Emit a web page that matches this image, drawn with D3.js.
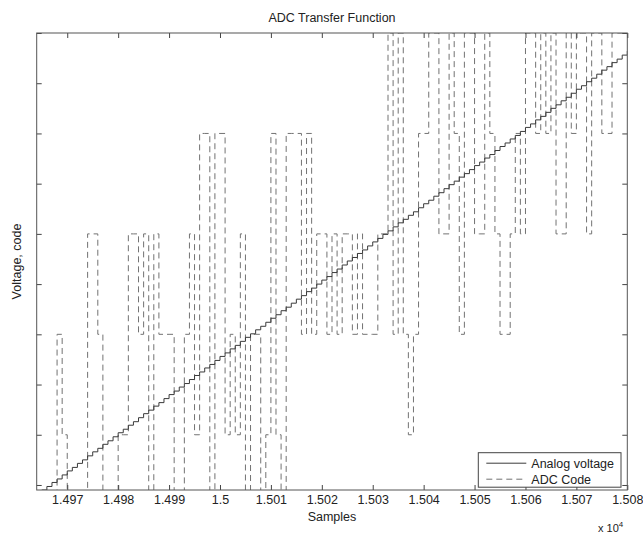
<!DOCTYPE html>
<html>
<head>
<meta charset="utf-8">
<script src="https://cdn.jsdelivr.net/npm/d3@7"></script>
<style>
  html, body { margin: 0; padding: 0; background: #fff; }
  svg { display: block; }
  text { font-family: "Liberation Sans", Arial, Helvetica, sans-serif; fill: #222; }
</style>
</head>
<body>
<svg id="chart" width="643" height="533"></svg>
<script>
// ---- data ----
const firstSample = 14964;          // sample index of first value
const xDomain = [14964, 15080];
const yDomain = [-0.1, 9];
const xTickValues = [14970, 14980, 14990, 15000, 15010, 15020, 15030, 15040, 15050, 15060, 15070, 15080];
const yTickValues = [0, 1, 2, 3, 4, 5, 6, 7, 8, 9];
const chartTitle = "ADC Transfer Function";
const xLabel = "Samples";
const yLabel = "Voltage, code";
const seriesNames = ["Analog voltage", "ADC Code"];

// analog voltage, one value per sample (14964 ... 15080)
const analogVoltage = [
 -0.18,-0.10,-0.03,0.05,0.12,0.20,0.28,0.35,0.43,0.50,
 0.58,0.66,0.73,0.81,0.88,0.96,1.04,1.11,1.19,1.26,
 1.34,1.42,1.49,1.57,1.64,1.72,1.80,1.87,1.95,2.02,
 2.10,2.18,2.25,2.33,2.40,2.48,2.56,2.63,2.71,2.78,
 2.86,2.94,3.01,3.09,3.16,3.24,3.32,3.39,3.47,3.54,
 3.62,3.70,3.77,3.85,3.92,4.00,4.08,4.15,4.23,4.30,
 4.38,4.46,4.53,4.61,4.68,4.76,4.84,4.91,4.99,5.06,
 5.14,5.22,5.29,5.37,5.44,5.52,5.60,5.67,5.75,5.82,
 5.90,5.98,6.05,6.13,6.20,6.28,6.36,6.43,6.51,6.58,
 6.66,6.74,6.81,6.89,6.96,7.04,7.12,7.19,7.27,7.34,
 7.42,7.50,7.57,7.65,7.72,7.80,7.88,7.95,8.03,8.10,
 8.18,8.26,8.33,8.41,8.48,8.56,8.64
];

// ADC output code, one value per sample (14964 ... 15080)
const adcCode = [
 -1,-1,-1,-1,3,1,-1,-1,-1,-1,
 5,5,3,-1,-1,-1,1,1,5,5,
 3,5,-1,5,3,3,3,-1,-1,3,
 5,1,7,7,-1,7,7,1,3,1,
 5,-1,3,3,-1,1,7,1,-1,7,
 7,7,3,7,3,5,5,3,5,3,
 5,5,3,5,3,3,3,5,5,9,
 3,9,3,1,3,7,7,9,9,5,
 5,9,7,3,9,9,5,5,9,7,
 5,3,3,5,7,5,9,9,7,9,
 7,9,5,5,9,7,9,9,5,9,
 9,7,7,9,9,9,9
];

// ---- layout ----
const svg = d3.select("#chart");
const plot = { left: 36.7, right: 627.3, top: 33, bottom: 490 };

const x = d3.scaleLinear().domain(xDomain).range([plot.left, plot.right]);
const y = d3.scaleLinear().domain(yDomain).range([plot.bottom, plot.top]);

svg.append("defs").append("clipPath").attr("id", "clip")
  .append("rect")
  .attr("x", plot.left).attr("y", plot.top)
  .attr("width", plot.right - plot.left).attr("height", plot.bottom - plot.top);

const analogData = analogVoltage.map((v, i) => ({ s: firstSample + i, v }));
const adcData = adcCode.map((v, i) => ({ s: firstSample + i, v }));

const stairs = d3.line()
  .x(d => x(d.s))
  .y(d => y(d.v))
  .curve(d3.curveStepAfter);

const g = svg.append("g").attr("clip-path", "url(#clip)");

g.append("path")
  .datum(adcData)
  .attr("d", stairs)
  .attr("fill", "none")
  .attr("stroke", "#727272")
  .attr("stroke-width", 1)
  .attr("stroke-dasharray", "6,4");

g.append("path")
  .datum(analogData)
  .attr("d", stairs)
  .attr("fill", "none")
  .attr("stroke", "#3a3a3a")
  .attr("stroke-width", 1);

// ---- axes ----
const tickLen = 5;
const fmt = d => (d / 1e4).toFixed(3).replace(/0+$/, "").replace(/\.$/, "");

const xAxisB = d3.axisBottom(x).tickValues(xTickValues).tickFormat(fmt)
  .tickSizeInner(-tickLen).tickSizeOuter(0).tickPadding(5);
const xAxisT = d3.axisTop(x).tickValues(xTickValues).tickFormat("")
  .tickSizeInner(-tickLen).tickSizeOuter(0);
const yAxisL = d3.axisLeft(y).tickValues(yTickValues).tickFormat("")
  .tickSizeInner(-tickLen).tickSizeOuter(0);
const yAxisR = d3.axisRight(y).tickValues(yTickValues).tickFormat("")
  .tickSizeInner(-tickLen).tickSizeOuter(0);

function styleAxis(sel) {
  sel.select(".domain").remove();
  sel.selectAll(".tick line").attr("stroke", "#444").attr("stroke-width", 1);
  sel.selectAll(".tick text").attr("font-size", 12.5).attr("fill", "#222")
     .style("font-family", '"Liberation Sans", Arial, sans-serif');
}

svg.append("g").attr("transform", `translate(0,${plot.bottom})`).call(xAxisB).call(styleAxis);
svg.append("g").attr("transform", `translate(0,${plot.top})`).call(xAxisT).call(styleAxis);
svg.append("g").attr("transform", `translate(${plot.left},0)`).call(yAxisL).call(styleAxis);
svg.append("g").attr("transform", `translate(${plot.right},0)`).call(yAxisR).call(styleAxis);

// box
svg.append("rect")
  .attr("x", plot.left).attr("y", plot.top)
  .attr("width", plot.right - plot.left).attr("height", plot.bottom - plot.top)
  .attr("fill", "none").attr("stroke", "#555").attr("stroke-width", 1);

// ---- texts ----
const cx = (plot.left + plot.right) / 2;
svg.append("text").attr("x", cx).attr("y", 22).attr("text-anchor", "middle")
  .attr("font-size", 12.5).text(chartTitle);
svg.append("text").attr("x", cx).attr("y", 521).attr("text-anchor", "middle")
  .attr("font-size", 12.5).text(xLabel);
svg.append("text")
  .attr("transform", `translate(21,${(plot.top + plot.bottom) / 2}) rotate(-90)`)
  .attr("text-anchor", "middle").attr("font-size", 12.5).text(yLabel);

const expo = svg.append("text").attr("x", 598).attr("y", 532).attr("font-size", 11);
expo.append("tspan").text("x 10");
expo.append("tspan").attr("dy", -5).attr("font-size", 8).text("4");

// ---- legend ----
const leg = { x: 478.3, y: 452.7, w: 142.7, h: 34.5 };
svg.append("rect").attr("x", leg.x).attr("y", leg.y).attr("width", leg.w).attr("height", leg.h)
  .attr("fill", "#fff").attr("stroke", "#444").attr("stroke-width", 1);

const legRows = [
  { name: seriesNames[0], dash: null, color: "#3a3a3a", yy: leg.y + 10.5 },
  { name: seriesNames[1], dash: "6,4", color: "#727272", yy: leg.y + 26.5 }
];
legRows.forEach(r => {
  svg.append("line").attr("x1", leg.x + 8).attr("x2", leg.x + 48)
    .attr("y1", r.yy).attr("y2", r.yy)
    .attr("stroke", r.color).attr("stroke-width", 1)
    .attr("stroke-dasharray", r.dash);
  svg.append("text").attr("x", leg.x + 53).attr("y", r.yy + 4.5)
    .attr("font-size", 12.5).text(r.name);
});
</script>
</body>
</html>
